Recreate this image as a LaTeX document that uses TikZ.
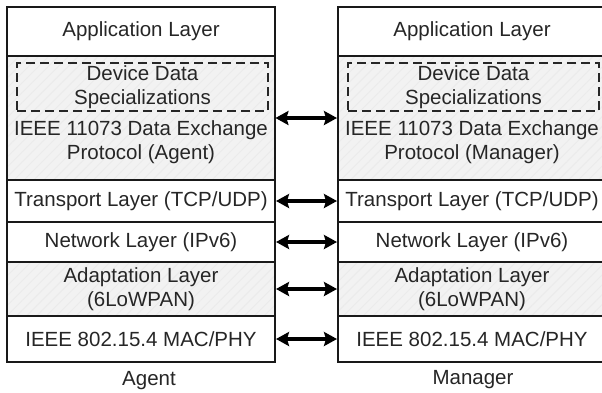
\documentclass[tikz,border=0pt]{standalone}
\usepackage{fontspec}
\setmainfont{Liberation Sans}
\usetikzlibrary{arrows.meta,patterns.meta}
\begin{document}
\begin{tikzpicture}[x=1pt,y=-1pt,
  every node/.style={font=\fontsize{20.5}{23.5}\selectfont, text=black!85, align=center, inner sep=0pt},
  layer/.style={draw=black!90, line width=2pt, rectangle, minimum width=268pt},
  hatched/.style={preaction={fill=black!5}, pattern={Lines[angle=45,distance=7pt,line width=0.9pt]}, pattern color=black!8},
  ddbox/.style={draw=black!85, line width=1.8pt, dash pattern=on 9pt off 5pt, rectangle, minimum width=251pt, minimum height=48pt},
  link/.style={line width=3.6pt, {Stealth[length=13pt,width=14pt,inset=2pt]}-{Stealth[length=13pt,width=14pt,inset=2pt]}}
]
\clip (0,0) rectangle (602,392);
\fill[white] (0,0) rectangle (602,392);
% Agent stack
\node[layer, minimum height=49pt] (aApp) at (141,31.5) {Application Layer};
\node[layer, hatched, minimum height=124pt] (aProto) at (141,118) {};
\node[layer, minimum height=42pt] (aTrans) at (141,201) {Transport Layer (TCP/UDP)};
\node[layer, minimum height=40pt] (aNet) at (141,242) {Network Layer (IPv6)};
\node[layer, hatched, minimum height=54pt] (aAdapt) at (141,289) {Adaptation Layer\\(6LoWPAN)};
\node[layer, minimum height=46pt] (aMac) at (141,339) {IEEE 802.15.4 MAC/PHY};
\node[ddbox] (aDev) at (142.5,87) {Device Data\\Specializations};
\node (aProtoTxt) at (141,142) {IEEE 11073 Data Exchange\\Protocol (Agent)};
\node (aLbl) at (149,381) {Agent};
% Manager stack
\node[layer, minimum height=49pt] (mApp) at (472,31.5) {Application Layer};
\node[layer, hatched, minimum height=124pt] (mProto) at (472,118) {};
\node[layer, minimum height=42pt] (mTrans) at (472,201) {Transport Layer (TCP/UDP)};
\node[layer, minimum height=40pt] (mNet) at (472,242) {Network Layer (IPv6)};
\node[layer, hatched, minimum height=54pt] (mAdapt) at (472,289) {Adaptation Layer\\(6LoWPAN)};
\node[layer, minimum height=46pt] (mMac) at (472,339) {IEEE 802.15.4 MAC/PHY};
\node[ddbox] (mDev) at (473.5,87) {Device Data\\Specializations};
\node (mProtoTxt) at (472,142) {IEEE 11073 Data Exchange\\Protocol (Manager)};
\node (mLbl) at (473,380) {Manager};
% links
\draw[link] (aProto.east) -- (mProto.west);
\draw[link] (aTrans.east) -- (mTrans.west);
\draw[link] (aNet.east) -- (mNet.west);
\draw[link] (aAdapt.east) -- (mAdapt.west);
\draw[link] (aMac.east) -- (mMac.west);
\end{tikzpicture}
\end{document}
